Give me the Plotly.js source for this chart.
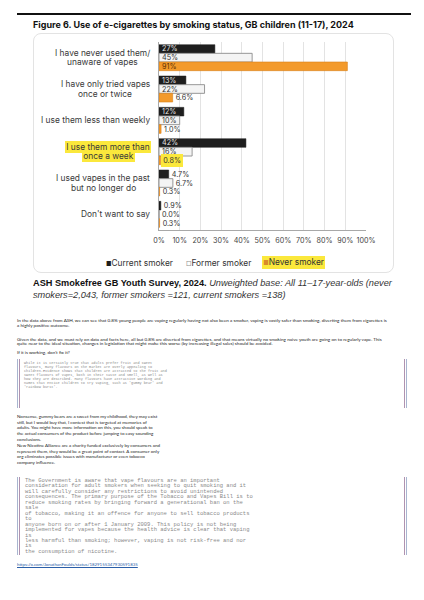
<!DOCTYPE html>
<html>
<head>
<meta charset="utf-8">
<script src="https://cdn.plot.ly/plotly-3.0.1.min.js"></script>
<style>
html,body{margin:0;padding:0;background:#fff;width:424px;height:600px;overflow:hidden;}
#rule{position:absolute;left:17px;top:13px;width:394px;height:1.7px;background:#111;}
#box{position:absolute;left:33px;top:32.5px;width:361px;height:240px;border:1px solid #e3e3e3;border-radius:8px;box-sizing:border-box;}
#chart{position:absolute;left:0;top:0;width:424px;height:305px;}
#caption{position:absolute;left:33px;top:276.6px;font-family:'Liberation Sans',Arial,sans-serif;font-size:9.2px;line-height:12.4px;color:#111;white-space:nowrap;}
#caption i{color:#333;}
.p{position:absolute;left:17px;font-family:Lato,'Liberation Sans',sans-serif;color:#222;white-space:nowrap;}
.q{position:absolute;left:16.7px;width:390.6px;border-left:1.4px solid #a9b5d0;border-right:1.4px solid #a9b5d0;padding:0 1.2px;box-sizing:border-box;}
.qi{height:100%;border-left:1.4px solid #b093b0;border-right:1.4px solid #b093b0;box-sizing:border-box;}
.qt{position:absolute;left:24px;font-family:'Liberation Mono','DejaVu Sans Mono',monospace;color:#8a8a8a;white-space:pre;}
#link{position:absolute;left:17px;top:561.5px;font-family:Lato,'Liberation Sans',sans-serif;font-size:4.4px;color:#2a5ea8;text-decoration:underline;white-space:nowrap;}
</style>
</head>
<body>
<div id="rule"></div>
<div id="box"></div>
<div id="chart"></div>
<div id="caption"><b>ASH Smokefree GB Youth Survey, 2024.</b> <i>Unweighted base: All 11–17-year-olds (never<br>smokers=2,043, former smokers =121, current smokers =138)</i></div>

<div class="p" style="top:317.8px;font-size:4.6px;line-height:5px;">In the data above from ASH, we can see that 0.8% young people are vaping regularly having not also been a smoker, vaping is vastly safer than smoking, diverting them from cigarettes is<br>a highly positive outcome.</div>
<div class="p" style="top:336.6px;font-size:4.6px;line-height:4.6px;">Given the data, and we must rely on data and facts here, all but 0.8% are diverted from cigarettes, and that means virtually no smoking naive youth are going on to regularly vape. This<br>quite near to the ideal situation, changes in legislation that might make this worse (by increasing illegal sales) should be avoided.</div>
<div class="p" style="top:349.6px;font-size:4.6px;line-height:5px;">If it is working, don't fix it?</div>

<div class="q" style="top:359px;height:49px;"><div class="qi"></div></div>
<div class="qt" style="top:360.7px;font-size:3.5px;line-height:4px;">While it is certainly true that adults prefer fruit and sweet
flavours, many flavours on the market are overly appealing to
children.Evidence shows that children are attracted to the fruit and
sweet flavours of vapes, both in their taste and smell, as well as
how they are described. Many flavours have attractive wording and
names that entice children to try vaping, such as 'gummy bear' and
'rainbow burst'.</div>

<div class="p" style="top:413.8px;font-size:4.5px;line-height:5.8px;">Nonsense, gummy bears are a sweet from my childhood, they may exist<br>still, but I would buy that, I contest that is targeted at memories of<br>adults. You might have more information on this, you should speak to<br>the actual consumers of the product before jumping to easy sounding<br>conclusions.<br>New Nicotine Alliance are a charity funded exclusively by consumers and<br>represent them, they would be a great point of contact. A consumer only<br>org eliminates possible issues with manufacturer or even tobacco<br>company influence.</div>

<div class="q" style="top:476.7px;height:78.5px;"><div class="qi"></div></div>
<div class="qt" style="top:478px;left:25px;font-size:5.5px;line-height:5.45px;">The Government is aware that vape flavours are an important
consideration for adult smokers when seeking to quit smoking and it
will carefully consider any restrictions to avoid unintended
consequences. The primary purpose of the Tobacco and Vapes Bill is to
reduce smoking rates by bringing forward a generational ban on the
sale
of tobacco, making it an offence for anyone to sell tobacco products
to
anyone born on or after 1 January 2009. This policy is not being
implemented for vapes because the health advice is clear that vaping
is
less harmful than smoking; however, vaping is not risk-free and nor
is
the consumption of nicotine.</div>

<div id="link">https://x.com/JonathanFoulds/status/1829155347930591835</div>

<script>
// ---- data ----
const chartTitle = 'Figure 6. Use of e-cigarettes by smoking status, GB children (11-17), 2024';
const categories = [
  'I have never used them/<br>unaware of vapes',
  'I have only tried vapes<br>once or twice',
  'I use them less than weekly',
  'I use them more than<br>once a week',
  'I used vapes in the past<br>but no longer do',
  "Don't want to say"
];
const seriesNames = ['Current smoker', 'Former smoker', 'Never smoker'];
const currentSmoker = [27, 13, 12, 42, 4.7, 0.9];
const formerSmoker  = [45, 22, 10, 16, 6.7, 0.0];
const neverSmoker   = [91, 6.6, 1.0, 0.8, 0.3, 0.3];
const xTickVals = [0, 10, 20, 30, 40, 50, 60, 70, 80, 90, 100];
const highlightedCategory = 'I use them more than<br>once a week';

// ---- styles ----
const FONT = 'Inter, "Liberation Sans", Arial, sans-serif';
const LABEL_SIZE = 8.4;
const VAL_SIZE = 7.2;
const BARGAP = 0.17;
const YELLOW = '#fbe83c';
const M = {l: 159, r: 58, t: 42, b: 75};
const W = 424, H = 305;

function fmt(v) { return v < 10 ? v.toFixed(1) + '%' : Math.round(v) + '%'; }

const styles = [
  {fill: '#1e1e1e', line: '#1e1e1e', lw: 0.5, inText: '#e4e4e4'},
  {fill: '#f4f4f4', line: '#8c8c8c', lw: 0.9, inText: '#333333'},
  {fill: '#f39a2b', line: '#d8801a', lw: 0.6, inText: '#5a2f05'}
];
const seriesValues = [currentSmoker, formerSmoker, neverSmoker];

const traces = seriesValues.map((vals, k) => ({
  type: 'bar', orientation: 'h',
  x: vals, y: categories, name: seriesNames[k],
  marker: {color: styles[k].fill, line: {color: styles[k].line, width: styles[k].lw}},
  text: vals.map(fmt),
  textposition: vals.map(v => v >= 10 ? 'inside' : 'outside'),
  insidetextanchor: 'start', textangle: 0, constraintext: 'none',
  insidetextfont: {family: FONT, size: VAL_SIZE, color: styles[k].inText},
  outsidetextfont: {family: FONT, size: VAL_SIZE, color: '#333'},
  cliponaxis: false, hoverinfo: 'skip', showlegend: false
}));

// measure text for centred multi-line category labels
const ctx = document.createElement('canvas').getContext('2d');
ctx.font = LABEL_SIZE + 'px Inter';
const annotations = [];
const LABEL_GAP = 9, PITCH = 9.5;
categories.forEach((cat, i) => {
  const lines = cat.split('<br>');
  const widths = lines.map(s => ctx.measureText(s).width);
  const blockW = Math.max.apply(null, widths);
  const hl = cat === highlightedCategory;
  lines.forEach((ln, j) => {
    annotations.push({
      xref: 'paper', x: 0, xanchor: 'center', xshift: -(LABEL_GAP + blockW / 2),
      yref: 'y', y: i, yanchor: 'middle', yshift: ((lines.length - 1) / 2 - j) * PITCH,
      text: ln, showarrow: false, align: 'center',
      font: {family: FONT, size: LABEL_SIZE, color: '#3a3a3a'},
      bgcolor: hl ? YELLOW : 'rgba(0,0,0,0)', borderpad: hl ? 1.2 : 0, borderwidth: 0
    });
  });
});

// highlighted value label (never smoker, highlighted category)
const hIdx = categories.indexOf(highlightedCategory);
const barW = (1 - BARGAP) / 3;
const neverOffset = -(1 - BARGAP) / 2 + barW * 2.5;
annotations.push({
  xref: 'x', x: neverSmoker[hIdx], xanchor: 'left', xshift: 0,
  yref: 'y', y: hIdx + neverOffset, yanchor: 'middle',
  text: fmt(neverSmoker[hIdx]), showarrow: false,
  font: {family: FONT, size: VAL_SIZE, color: '#333'},
  bgcolor: YELLOW, borderpad: 2.2, borderwidth: 0
});

// legend drawn as text items
const legendX = [106, 186, 261.5];
const legendSym = [
  '<span style="color:#1e1e1e;font-size:6px">■</span>',
  '<span style="color:#8c8c8c;font-size:6px">□</span>',
  '<span style="color:#d98a2a;font-size:6px">■</span>'
];
seriesNames.forEach((nm, k) => {
  annotations.push({
    xref: 'paper', x: 0, xanchor: 'left', xshift: legendX[k] - M.l,
    yref: 'paper', y: (230 - 262.5) / (H - M.t - M.b), yanchor: 'middle',
    text: legendSym[k] + nm, showarrow: false,
    font: {family: FONT, size: LABEL_SIZE, color: '#333'},
    bgcolor: k === 2 ? YELLOW : 'rgba(0,0,0,0)', borderpad: k === 2 ? 1.3 : 0, borderwidth: 0
  });
});

const layout = {
  width: W, height: H,
  margin: M,
  paper_bgcolor: 'rgba(0,0,0,0)', plot_bgcolor: 'rgba(0,0,0,0)',
  title: {
    text: '<b>' + chartTitle + '</b>',
    font: {family: FONT, size: 9, color: '#111'},
    xref: 'container', x: 33 / W, xanchor: 'left',
    yref: 'container', y: 1 - 24.5 / H, yanchor: 'middle'
  },
  barmode: 'group', bargap: BARGAP, bargroupgap: 0,
  xaxis: {
    range: [0, 100], tickvals: xTickVals, ticktext: xTickVals.map(v => v + '%'),
    showgrid: true, gridcolor: '#e3e3e3', gridwidth: 1,
    showline: true, linecolor: '#a8a8a8', linewidth: 1, zeroline: false,
    ticks: '', tickfont: {family: FONT, size: VAL_SIZE, color: '#444'},
    ticklabelstandoff: 3, fixedrange: true
  },
  yaxis: {
    type: 'category', categoryorder: 'array', categoryarray: categories,
    autorange: 'reversed', showticklabels: false, ticks: '',
    showgrid: false, showline: true, linecolor: '#a8a8a8', linewidth: 1, zeroline: false,
    fixedrange: true
  },
  showlegend: false,
  annotations: annotations
};

Plotly.newPlot('chart', traces, layout, {displayModeBar: false, staticPlot: true});
</script>
</body>
</html>
